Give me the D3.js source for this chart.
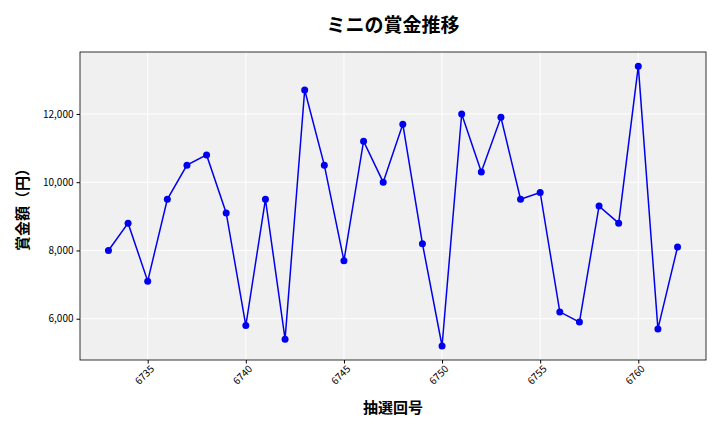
<!DOCTYPE html>
<html><head><meta charset="utf-8">
<script src="https://cdn.jsdelivr.net/npm/d3@7"></script>
<style>body{margin:0;background:#fff}</style></head>
<body><svg id="c" width="720" height="432"></svg>
<script>
const draws = d3.range(6733, 6763);
const prizes = [8000,8800,7100,9500,10500,10800,9100,5800,9500,5400,12700,10500,7700,11200,10000,11700,8200,5200,12000,10300,11900,9500,9700,6200,5900,9300,8800,13400,5700,8100];
const xTicks = [6735,6740,6745,6750,6755,6760];
const yTicks = [6000,8000,10000,12000];
const font = "'Noto Sans CJK JP', 'Noto Sans', sans-serif";
const svg = d3.select("#c");
const m = {l:80, r:706, t:52, b:360};
const x = d3.scaleLinear().domain([6731.55, 6763.45]).range([m.l, m.r]);
const y = d3.scaleLinear().domain([4790, 13815]).range([m.b, m.t]);
svg.append("rect").attr("x",m.l).attr("y",m.t).attr("width",m.r-m.l).attr("height",m.b-m.t).attr("fill","#f0f0f0");
const g = svg.append("g");
xTicks.forEach(t=>g.append("line").attr("x1",x(t)).attr("x2",x(t)).attr("y1",m.t).attr("y2",m.b).attr("stroke","#fff").attr("stroke-width",1));
yTicks.forEach(t=>g.append("line").attr("y1",y(t)).attr("y2",y(t)).attr("x1",m.l).attr("x2",m.r).attr("stroke","#fff").attr("stroke-width",1));
svg.append("rect").attr("x",m.l).attr("y",m.t).attr("width",m.r-m.l).attr("height",m.b-m.t).attr("fill","none").attr("stroke","#000").attr("stroke-width",0.8);
const xa = svg.append("g").attr("transform",`translate(0,${m.b})`).call(d3.axisBottom(x).tickValues(xTicks).tickFormat(d3.format("d")).tickSize(3.5));
xa.select(".domain").remove();
xa.selectAll("text").attr("font-family",font).attr("font-size",10).attr("fill","#000")
  .attr("text-anchor","end").attr("transform","rotate(-45)").attr("dx","-0.2em").attr("dy","0.5em");
const ya = svg.append("g").attr("transform",`translate(${m.l},0)`).call(d3.axisLeft(y).tickValues(yTicks).tickFormat(d3.format(",")).tickSize(3.5));
ya.select(".domain").remove();
ya.selectAll("text").attr("font-family",font).attr("font-size",10).attr("fill","#000");
const line = d3.line().x((d,i)=>x(draws[i])).y(d=>y(d));
svg.append("path").datum(prizes).attr("d",line).attr("fill","none").attr("stroke","#0000ee").attr("stroke-width",1.5);
svg.selectAll("circle.p").data(prizes).enter().append("circle").attr("cx",(d,i)=>x(draws[i])).attr("cy",d=>y(d)).attr("r",3.5).attr("fill","#0000ee");
svg.append("text").attr("x",393).attr("y",32).attr("text-anchor","middle").attr("font-family",font).attr("font-size",19).attr("font-weight","bold").text("ミニの賞金推移");
svg.append("text").attr("x",393).attr("y",413).attr("text-anchor","middle").attr("font-family",font).attr("font-size",15).attr("font-weight","bold").text("抽選回号");
svg.append("text").attr("transform","translate(28,206) rotate(-90)").attr("text-anchor","middle").attr("font-family",font).attr("font-size",15).attr("font-weight","bold").text("賞金額（円）");
</script></body></html>
